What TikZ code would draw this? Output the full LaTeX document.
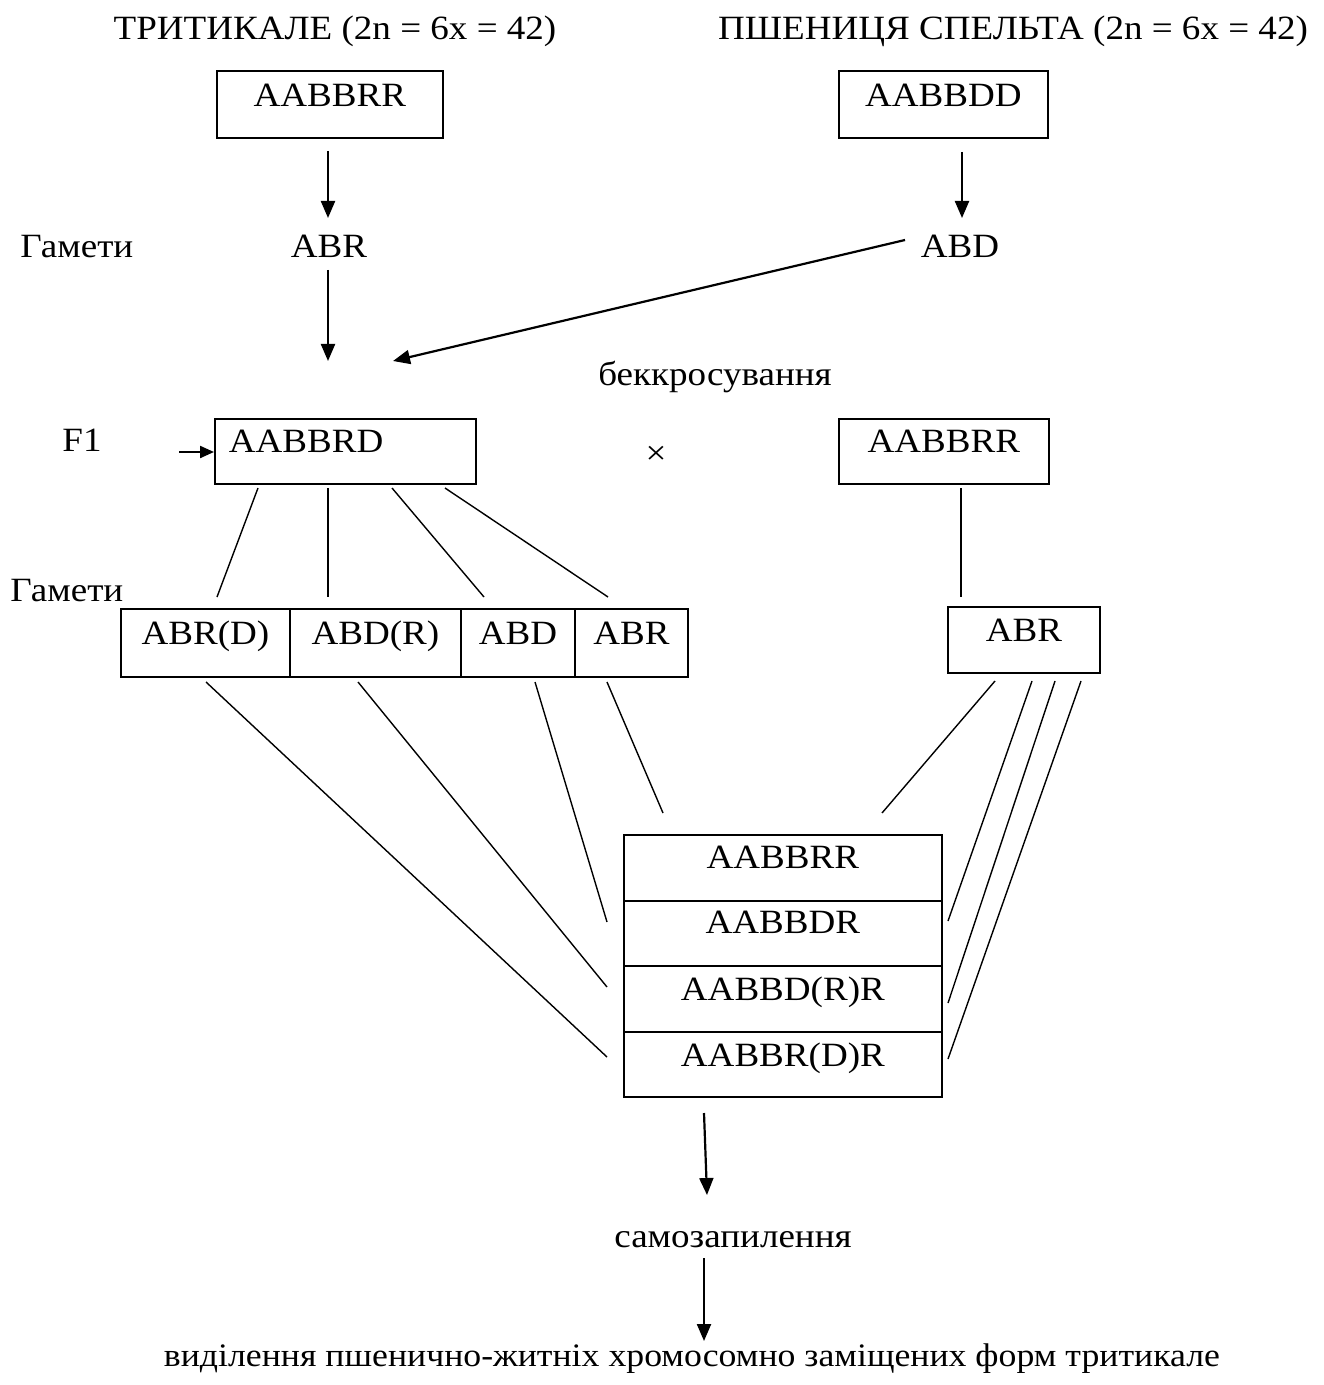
\documentclass[tikz,border=0pt]{standalone}
\usepackage{fontspec}
\setmainfont[FakeStretch=1.09]{Liberation Serif}
\usetikzlibrary{arrows.meta}
\begin{document}
\begin{tikzpicture}[x=0.5pt,y=-0.5pt,
  font=\fontsize{17pt}{20pt}\selectfont,
  box/.style={draw, line width=0.9pt, inner sep=0pt, anchor=north west},
  lbl/.style={inner sep=0pt, anchor=base},
  arr/.style={line width=1.1pt, -{Triangle[length=8.5pt,width=7pt]}},
  sarr/.style={line width=1.1pt, -{Triangle[length=7pt,width=6pt]}},
  ln/.style={line width=0.7pt}]
\useasboundingbox (0,0) rectangle (1323,1385);
% titles
\node[lbl] (t1) at (335,40) {ТРИТИКАЛЕ (2n = 6x = 42)};
\node[lbl] (t2) at (1013,40) {ПШЕНИЦЯ СПЕЛЬТА (2n = 6x = 42)};
% parent boxes
\node[box, minimum width=113pt, text height=18pt, text depth=15.5pt] (p1) at (216,70) {AABBRR};
\node[box, minimum width=104.5pt, text height=18pt, text depth=15.5pt] (p2) at (838,70) {AABBDD};
% gametes
\node[lbl, anchor=base west] (gam1) at (20,258) {Гамети};
\node[lbl] (abr) at (329,258) {ABR};
\node[lbl] (abd) at (960,258) {ABD};
\coordinate (a1s) at (328,151); \coordinate (a1e) at (328,218);
\coordinate (a2s) at (962,152); \coordinate (a2e) at (962,218);
\coordinate (a3s) at (328,270); \coordinate (a3e) at (328,361);
\coordinate (a4s) at (905,240); \coordinate (a4e) at (393,361);
\draw[arr] (a1s) -- (a1e);
\draw[arr] (a2s) -- (a2e);
\draw[arr] (a3s) -- (a3e);
\draw[arr] (a4s) -- (a4e);
\node[lbl] (bk) at (715,386) {беккросування};
% F1 row
\node[lbl, anchor=base west] (f1lbl) at (62,451) {F1};
\node[box, text width=116.5pt, align=left, inner xsep=7pt, text height=17pt, text depth=15.5pt] (f1) at (214,418) {AABBRD};
\coordinate (sa) at (179,452);
\draw[sarr] (sa) -- (f1.west |- sa);
\node[inner sep=0pt] (times) at (656,455) {×};
\node[box, minimum width=105pt, text height=17pt, text depth=15.5pt] (f2) at (838,418) {AABBRR};
% gamete row
\node[lbl, anchor=base west] (gam2) at (10,601) {Гамети};
\node[box, minimum width=84.5pt, text height=18pt, text depth=16pt] (g1) at (120,608) {ABR(D)};
\node[box, minimum width=85.5pt, text height=18pt, text depth=16pt] (g2) at (289,608) {ABD(R)};
\node[box, minimum width=57pt, text height=18pt, text depth=16pt] (g3) at (460,608) {ABD};
\node[box, minimum width=56.5pt, text height=18pt, text depth=16pt] (g4) at (574,608) {ABR};
\node[box, minimum width=76pt, text height=17.5pt, text depth=15.5pt] (gr) at (947,606) {ABR};
% lines F1 -> gametes
\coordinate (l1s) at (258,488); \coordinate (l1e) at (217,597);
\coordinate (l2s) at (328,488); \coordinate (l2e) at (328,597);
\coordinate (l3s) at (392,488); \coordinate (l3e) at (484,597);
\coordinate (l4s) at (445,488); \coordinate (l4e) at (608,597);
\coordinate (l5s) at (961,488); \coordinate (l5e) at (961,597);
\draw[ln] (l1s) -- (l1e);
\draw[ln] (l2s) -- (l2e);
\draw[ln] (l3s) -- (l3e);
\draw[ln] (l4s) -- (l4e);
\draw[ln] (l5s) -- (l5e);
% result box
\node[box, minimum width=159pt, text height=17pt, text depth=16pt] (r1) at (623,834) {AABBRR};
\node[box, minimum width=159pt, text height=16.5pt, text depth=16pt] (r2) at (623,900) {AABBDR};
\node[box, minimum width=159pt, text height=17.5pt, text depth=15.5pt] (r3) at (623,965) {AABBD(R)R};
\node[box, minimum width=159pt, text height=17.5pt, text depth=15pt] (r4) at (623,1031) {AABBR(D)R};
% lines gametes -> result
\coordinate (m1s) at (206,682); \coordinate (m1e) at (607,1057);
\coordinate (m2s) at (358,682); \coordinate (m2e) at (607,987);
\coordinate (m3s) at (535,682); \coordinate (m3e) at (607,922);
\coordinate (m4s) at (607,682); \coordinate (m4e) at (663,813);
\coordinate (n1s) at (995,681); \coordinate (n1e) at (882,813);
\coordinate (n2s) at (1032,681); \coordinate (n2e) at (948,921);
\coordinate (n3s) at (1055,681); \coordinate (n3e) at (948,1003);
\coordinate (n4s) at (1081,681); \coordinate (n4e) at (948,1059);
\draw[ln] (m1s) -- (m1e);
\draw[ln] (m2s) -- (m2e);
\draw[ln] (m3s) -- (m3e);
\draw[ln] (m4s) -- (m4e);
\draw[ln] (n1s) -- (n1e);
\draw[ln] (n2s) -- (n2e);
\draw[ln] (n3s) -- (n3e);
\draw[ln] (n4s) -- (n4e);
% bottom
\coordinate (b1s) at (704,1113); \coordinate (b1e) at (707,1195);
\draw[arr] (b1s) -- (b1e);
\node[lbl] (self) at (733,1247) {самозапилення};
\coordinate (b2s) at (704,1258); \coordinate (b2e) at (704,1341);
\draw[arr] (b2s) -- (b2e);
\node[lbl, font=\fontsize{16.4pt}{20pt}\selectfont] (fin) at (692,1366) {виділення пшенично-житніх хромосомно заміщених форм тритикале};
\end{tikzpicture}
\end{document}
